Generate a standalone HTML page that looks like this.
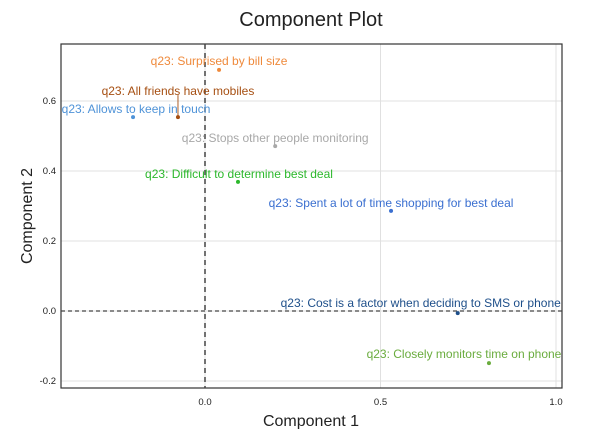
<!DOCTYPE html>
<html><head><meta charset="utf-8"><style>
body{margin:0;background:#fff;font-family:"Liberation Sans",sans-serif}
svg text{font-family:"Liberation Sans",sans-serif}
</style></head><body>
<svg id="chart" width="600" height="429" xmlns="http://www.w3.org/2000/svg">
<text x="311" y="26" text-anchor="middle" font-size="20" fill="#222">Component Plot</text>
<g id="grid"></g>
<g id="axes"></g>
<g id="marks"></g>
<text x="311" y="426" text-anchor="middle" font-size="16" fill="#222">Component 1</text>
<text transform="translate(32,216) rotate(-90)" text-anchor="middle" font-size="16" fill="#222">Component 2</text>
</svg>
<script>
const labels=["q23: Surprised by bill size","q23: All friends have mobiles","q23: Allows to keep in touch","q23: Stops other people monitoring","q23: Difficult to determine best deal","q23: Spent a lot of time shopping for best deal","q23: Cost is a factor when deciding to SMS or phone","q23: Closely monitors time on phone"];
const comp1=[0.04,-0.077,-0.205,0.2,0.094,0.53,0.72,0.809];
const comp2=[0.689,0.554,0.554,0.471,0.369,0.286,-0.006,-0.149];
const xTicks=[0.0,0.5,1.0];
const xTickLabels=["0.0","0.5","1.0"];
const yTicks=[-0.2,0.0,0.2,0.4,0.6];
const yTickLabels=["-0.2","0.0","0.2","0.4","0.6"];
const colors=["#ef8a3c","#a64f12","#4f93d8","#a8a8a8","#2cb82c","#3a6fd0","#1e4f8a","#6aac3e"];
const lblDx=[0,0,3,0,1,0,-37,-25];
const lblDy=[-9,-26,-8,-8,-8,-8,-10,-9];
const L=61,R=562,T=44,B=388;
const X=v=>205+v*351, Y=v=>311-v*350;
const NS="http://www.w3.org/2000/svg";
function mk(tag,attrs,parent){const e=document.createElementNS(NS,tag);for(const k in attrs)e.setAttribute(k,attrs[k]);parent.appendChild(e);return e;}
const grid=document.getElementById('grid'),axes=document.getElementById('axes'),marks=document.getElementById('marks');
xTicks.forEach((t,i)=>{
 const g=mk('line',{x1:X(t),x2:X(t),y1:T,y2:B,stroke:'#e0e0e0','stroke-width':1},grid);
 
 
 const tx=mk('text',{x:X(t),y:B+17,'text-anchor':'middle','font-size':9.5,fill:'#222'},axes);tx.textContent=xTickLabels[i];
 
 
});
yTicks.forEach((t,i)=>{
 const g=mk('line',{x1:L,x2:R,y1:Y(t),y2:Y(t),stroke:'#e0e0e0','stroke-width':1},grid);
 
 
 const tx=mk('text',{x:L-5,y:Y(t)+3,'text-anchor':'end','font-size':9.5,fill:'#222'},axes);tx.textContent=yTickLabels[i];
 
 
});
const fr=mk('rect',{x:L,y:T,width:R-L,height:B-T,fill:'none',stroke:'#333','stroke-width':1.2},axes);


const vz=mk('line',{x1:X(0),x2:X(0),y1:T,y2:B,stroke:'#444','stroke-width':1.5,'stroke-dasharray':'5,4'},axes);


const hz=mk('line',{x1:L,x2:R,y1:Y(0),y2:Y(0),stroke:'#444','stroke-width':1.2,'stroke-dasharray':'4,3'},axes);


labels.forEach((lb,i)=>{
 const px=X(comp1[i]),py=Y(comp2[i]);
 if(i===1){const sg=mk('line',{x1:px,x2:px,y1:py,y2:py+lblDy[i]+4,stroke:colors[i],'stroke-width':1.3,opacity:0.7},marks);
  
  }
 const c=mk('circle',{cx:px,cy:py,r:2,fill:colors[i]},marks);
 
 
 const t=mk('text',{x:px+lblDx[i],y:py+lblDy[i]+4,'text-anchor':'middle','font-size':12,fill:colors[i]},marks);
 t.textContent=lb;
 
 
});
</script>
</body></html>
